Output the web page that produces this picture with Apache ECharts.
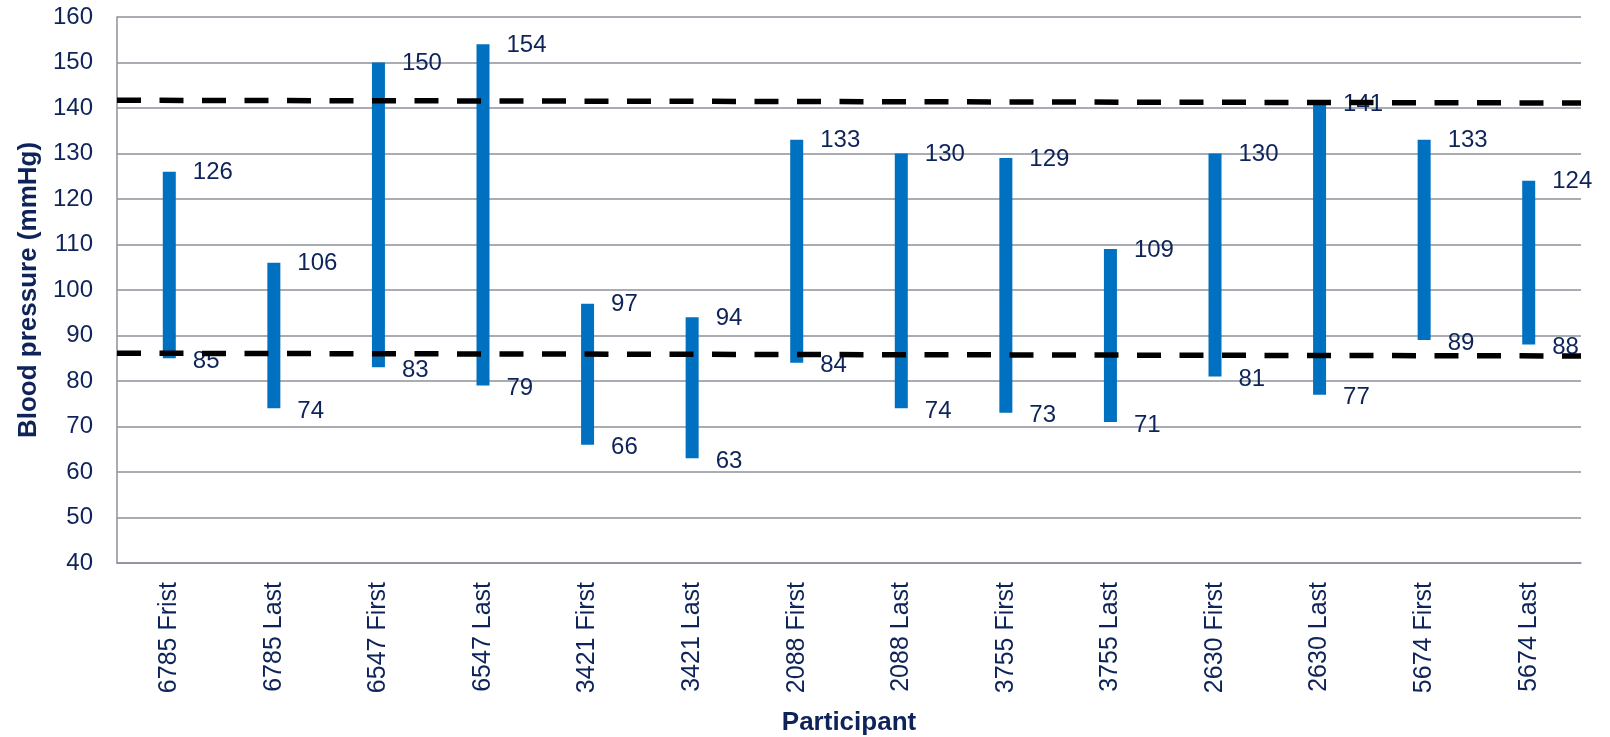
<!DOCTYPE html>
<html>
<head>
<meta charset="utf-8">
<script src="https://cdn.jsdelivr.net/npm/echarts@6/dist/echarts.min.js"></script>
<style>
  html, body { margin: 0; padding: 0; background: #fff; }
  #chart { width: 1610px; height: 737px; }
</style>
</head>
<body>
<div id="chart"></div>
<script>
// Participants' first and last readings
const categories = [
  '6785 Frist', '6785 Last', '6547 First', '6547 Last', '3421 First', '3421 Last',
  '2088 First', '2088 Last', '3755 First', '3755 Last', '2630 First', '2630 Last',
  '5674 First', '5674 Last'
];
const systolic  = [126, 106, 150, 154, 97, 94, 133, 130, 129, 109, 130, 141, 133, 124];
const diastolic = [85, 74, 83, 79, 66, 63, 84, 74, 73, 71, 81, 77, 89, 88];

// Threshold lines (start, end) across the plot
const upperRef = [141.7, 141.1];
const lowerRef = [86.1, 85.5];

const yTicks = { min: 40, max: 160, interval: 10 };

const TEXT = '#0e2359';
const GRID = '#8e909a';
const BAR = '#0070c0';
const FONT = '"Liberation Sans", Arial, sans-serif';

const rangeData = categories.map((c, i) => [i, diastolic[i], systolic[i]]);

const chart = echarts.init(document.getElementById('chart'), null, { renderer: 'canvas' });

chart.setOption({
  animation: false,
  backgroundColor: '#fff',
  grid: {
    left: 117, right: 29, top: 17, bottom: 174,
    containLabel: false, outerBoundsMode: 'none'
  },
  xAxis: [
    {
      type: 'category',
      data: categories,
      name: 'Participant',
      nameLocation: 'middle',
      nameGap: 147,
      nameTextStyle: { color: TEXT, fontSize: 26, fontWeight: 'bold', fontFamily: FONT },
      axisLine: { lineStyle: { color: GRID, width: 1.5 } },
      axisTick: { show: false },
      axisLabel: { rotate: 90, margin: 19, color: TEXT, fontSize: 25, fontFamily: FONT },
      splitLine: { show: false }
    },
    {
      type: 'value', min: 0, max: 1, show: false
    }
  ],
  yAxis: {
    type: 'value',
    min: yTicks.min, max: yTicks.max, interval: yTicks.interval,
    name: 'Blood pressure (mmHg)',
    nameLocation: 'middle',
    nameGap: 75,
    nameTextStyle: { color: TEXT, fontSize: 26, fontWeight: 'bold', fontFamily: FONT },
    axisLine: { show: true, lineStyle: { color: GRID, width: 1.5 } },
    axisTick: { show: false },
    axisLabel: { margin: 24, color: TEXT, fontSize: 24, fontFamily: FONT },
    splitLine: { lineStyle: { color: GRID, width: 1.5 } }
  },
  series: [
    {
      type: 'custom',
      xAxisIndex: 0,
      data: rangeData,
      z: 2,
      renderItem: function (params, api) {
        const idx = api.value(0);
        const lo = api.value(1);
        const hi = api.value(2);
        const pLo = api.coord([idx, lo]);
        const pHi = api.coord([idx, hi]);
        const w = 13;
        const x0 = pLo[0] - w / 2;
        const labelX = pLo[0] + w / 2 + 17;
        return {
          type: 'group',
          children: [
            {
              type: 'rect',
              shape: { x: x0, y: pHi[1], width: w, height: pLo[1] - pHi[1] },
              style: { fill: BAR }
            },
            {
              type: 'text',
              style: {
                x: labelX, y: pHi[1] + 1, text: String(hi),
                fill: TEXT, font: '24px ' + FONT,
                textAlign: 'left', textVerticalAlign: 'middle'
              }
            },
            {
              type: 'text',
              style: {
                x: labelX, y: pLo[1] + 3, text: String(lo),
                fill: TEXT, font: '24px ' + FONT,
                textAlign: 'left', textVerticalAlign: 'middle'
              }
            }
          ]
        };
      }
    },
    {
      type: 'line',
      xAxisIndex: 1,
      data: [[0, upperRef[0]], [1, upperRef[1]]],
      symbol: 'none',
      z: 5,
      lineStyle: { color: '#000', width: 5.5, type: [24, 18.5] }
    },
    {
      type: 'line',
      xAxisIndex: 1,
      data: [[0, lowerRef[0]], [1, lowerRef[1]]],
      symbol: 'none',
      z: 5,
      lineStyle: { color: '#000', width: 5.5, type: [24, 18.5] }
    }
  ]
});
</script>
</body>
</html>
